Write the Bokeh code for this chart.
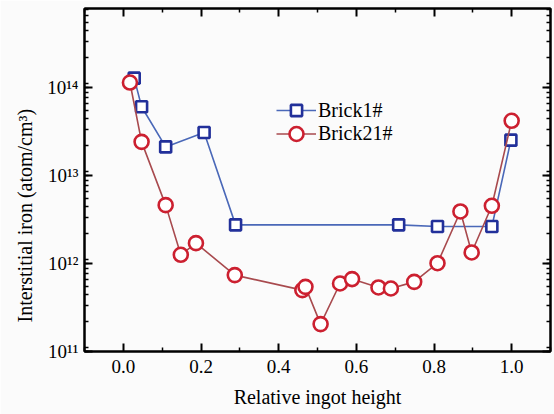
from bokeh.plotting import figure
from bokeh.models import LinearAxis, LogAxis, Legend, LegendItem, FixedTicker, LogTicker, CustomJSTickFormatter, Range1d, Title
from bokeh.embed import file_html
from bokeh.resources import INLINE

brick1_x = [0.028, 0.047, 0.109, 0.208, 0.289, 0.709, 0.809, 0.949, 0.998]
brick1_y = [1.29e14, 6.1e13, 2.13e13, 3.1e13, 2.76e12, 2.76e12, 2.64e12, 2.64e12, 2.54e13]

brick21_x = [0.017, 0.047, 0.109, 0.148, 0.187, 0.287, 0.461, 0.469, 0.508, 0.558,
             0.589, 0.657, 0.689, 0.749, 0.809, 0.868, 0.897, 0.949, 1.0]
brick21_y = [1.15e14, 2.43e13, 4.63e12, 1.26e12, 1.71e12, 7.4e11, 4.99e11, 5.44e11, 2.05e11, 5.94e11,
             6.67e11, 5.35e11, 5.21e11, 6.2e11, 1.01e12, 3.92e12, 1.34e12, 4.55e12, 4.22e13]

x_ticks = [0.0, 0.2, 0.4, 0.6, 0.8, 1.0]
x_minor = [-0.1, 0.1, 0.3, 0.5, 0.7, 0.9, 1.1]
x_label = "Relative ingot height"
y_label = "Interstitial iron (atom/cm\u00b3)"
series_names = ["Brick1#", "Brick21#"]

FONT = "'Liberation Serif', 'Times New Roman', serif"

p = figure(width=554, height=414, output_backend="svg", toolbar_location=None,
           x_range=Range1d(-0.1, 1.1), y_range=Range1d(1e11, 8e14), y_axis_type="log",
           min_border_left=84, min_border_right=4, min_border_top=8, min_border_bottom=63,
           background_fill_color="#fbfbfb", border_fill_color="#fbfbfb")
p.grid.visible = False
p.outline_line_color = "black"
p.outline_line_width = 2

yfmt = CustomJSTickFormatter(code="""
const e = Math.round(Math.log10(tick));
const sup = {'0':'\u2070','1':'\u00b9','2':'\u00b2','3':'\u00b3','4':'\u2074','5':'\u2075','6':'\u2076','7':'\u2077','8':'\u2078','9':'\u2079','-':'\u207b'};
return '10' + String(e).split('').map(c => sup[c]).join('');
""")
xfmt = CustomJSTickFormatter(code="return tick.toFixed(1);")
blank = CustomJSTickFormatter(code="return '';")

def style(ax):
    ax.axis_line_width = 2
    ax.major_tick_in = 8
    ax.major_tick_out = 0
    ax.minor_tick_in = 4
    ax.minor_tick_out = 0
    ax.major_tick_line_width = 2
    ax.minor_tick_line_width = 1.5
    ax.major_label_text_font = FONT
    ax.major_label_text_font_size = "19px"
    ax.major_label_text_color = "black"
    ax.axis_label_text_font = FONT
    ax.axis_label_text_font_size = "20px"
    ax.axis_label_text_font_style = "normal"
    ax.axis_label_text_color = "black"

xax = p.xaxis[0]
xax.ticker = FixedTicker(ticks=x_ticks, minor_ticks=x_minor)
xax.formatter = xfmt
xax.axis_label = x_label
xax.major_label_standoff = 8
xax.axis_label_standoff = 10
style(xax)

yax = p.yaxis[0]
yax.ticker = LogTicker(num_minor_ticks=9)
yax.formatter = yfmt
yax.major_label_standoff = 6
style(yax)

top = LinearAxis(ticker=FixedTicker(ticks=x_ticks, minor_ticks=x_minor), formatter=blank,
                 major_label_standoff=0)
style(top)
p.add_layout(top, "above")
right = LogAxis(ticker=LogTicker(num_minor_ticks=9), formatter=blank, major_label_standoff=0)
style(right)
p.add_layout(right, "right")

ytitle = Title(text=y_label, align="left", offset=29, standoff=18,
               text_font=FONT, text_font_size="20px", text_font_style="normal", text_color="black")
p.add_layout(ytitle, "left")

l1 = p.line(brick1_x, brick1_y, line_color="#4a68b8", line_width=1.6)
m1 = p.scatter(brick1_x, brick1_y, marker="square", size=11, fill_color="white",
               line_color="#22309a", line_width=2.6)
l2 = p.line(brick21_x, brick21_y, line_color="#a84a4e", line_width=1.6)
m2 = p.scatter(brick21_x, brick21_y, marker="circle", size=14, fill_color="white",
               line_color="#cc2030", line_width=2.6)

def make_legend(label, rends, y, h):
    return Legend(items=[LegendItem(label=label, renderers=rends)],
                  location=(192, y), glyph_width=40, glyph_height=h, label_height=20,
                  padding=0, spacing=0, margin=0, label_standoff=2,
                  border_line_color=None, background_fill_alpha=0,
                  label_text_font=FONT, label_text_font_size="20px", label_text_color="black")

p.add_layout(make_legend(series_names[0], [l1, m1], 227, 28), "center")
p.add_layout(make_legend(series_names[1], [l2, m2], 200, 35), "center")

open("out.html", "w").write(file_html(p, INLINE))
